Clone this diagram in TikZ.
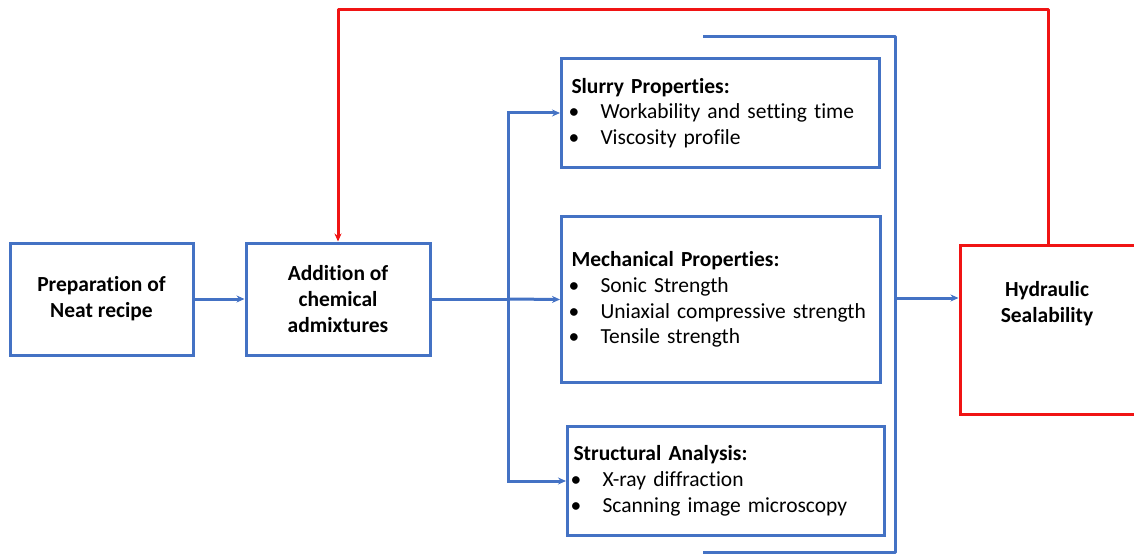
\documentclass[tikz,border=0pt]{standalone}
\usepackage{fontspec}
\setmainfont[Ligatures=CommonOff]{Carlito}
\usetikzlibrary{arrows.meta,positioning}
\definecolor{cblue}{RGB}{68,114,196}
\definecolor{cred}{RGB}{240,20,20}
\tikzset{
  x=1pt,y=-1pt,
  bbox/.style={draw=cblue,line width=3pt,font=\fontsize{21.5}{26}\selectfont\bfseries,align=center,inner sep=0pt},
  rbox/.style={draw=cred,line width=3pt,inner sep=0pt},
  rtext/.style={font=\fontsize{21.5}{26}\selectfont\bfseries,align=center,inner sep=0pt},
  lbox/.style={draw=cblue,line width=3pt,font=\fontsize{21.5}{25.8}\selectfont,align=left,inner xsep=10pt,inner ysep=0pt,anchor=north west},
  conn/.style={draw=cblue,line width=3pt},
  arr/.style={conn,-{Stealth[length=8pt,width=7pt]}},
  rconn/.style={draw=cred,line width=3pt},
  rarr/.style={rconn,-{Stealth[length=8pt,width=7pt]}}
}
\newcommand{\itm}[1]{\makebox[29pt][l]{\hspace{-3pt}\textbullet}#1}
\begin{document}
\begin{tikzpicture}
\useasboundingbox (0,0) rectangle (1134,556);
\clip (0,0) rectangle (1134,556);
\node[bbox,minimum width=183pt,minimum height=112pt] (prep) at (101.5,299) {Preparation of\\Neat recipe};
\node[bbox,minimum width=184pt,minimum height=112pt] (add) at (338,299) {Addition of\\chemical\\admixtures};
\node[lbox,text width=298pt,minimum height=109pt] (slurry) at (560,57) {\textbf{Slurry Properties:}\\\itm{Workability and setting time}\\\itm{Viscosity profile}};
\node[lbox,text width=299pt,minimum height=166pt] (mech) at (560,215) {\textbf{Mechanical Properties:}\\\itm{Sonic Strength}\\\itm{Uniaxial compressive strength}\\\itm{Tensile strength}};
\node[lbox,inner xsep=6pt,text width=305pt,minimum height=109pt] (struct) at (566,425) {\textbf{Structural Analysis:}\\\itm{X-ray diffraction}\\\itm{Scanning image microscopy}};
\node[rbox,minimum width=176pt,minimum height=169pt] (hyd) at (1048,329.5) {};
\node[rtext] (hydt) at (1047,304) {Hydraulic\\Sealability};
% connectors
\draw[arr] (prep.east) -- (add.west);
\coordinate (split) at (508,299);
\draw[conn] (add.east) -- (split);
\draw[arr] (split) -- (mech.west);
\draw[arr] (split) |- (slurry.west);
\draw[arr] (split) |- (struct.west);
% bracket
\coordinate (btl) at (703,37);
\coordinate (bbl) at (703,552);
\coordinate (bmid) at (895,298);
\draw[conn,line join=round] (btl) -- (895,37) -- (895,552) -- (bbl);
\draw[arr] (bmid) -- (hyd.west |- bmid);
% feedback
\coordinate (rt) at (1048,10);
\coordinate (lt) at (338,10);
\draw[rarr,line join=round] (hyd.north) -- (rt) -- (lt) -- (add.north);
\end{tikzpicture}
\end{document}
